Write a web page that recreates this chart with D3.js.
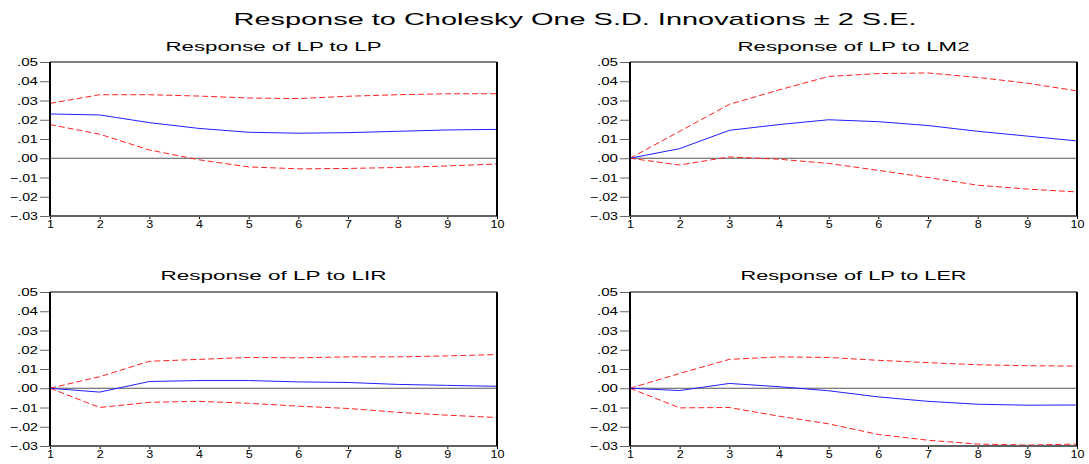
<!DOCTYPE html>
<html>
<head>
<meta charset="utf-8">
<script src="https://cdn.jsdelivr.net/npm/d3@7"></script>
<style>
  body { margin: 0; background: #fff; }
  text { font-family: "Liberation Sans", Arial, sans-serif; fill: #000; }
</style>
</head>
<body>
<div id="chart"></div>
<script>
var periods = [1, 2, 3, 4, 5, 6, 7, 8, 9, 10];
var yTicks = [-0.03, -0.02, -0.01, 0, 0.01, 0.02, 0.03, 0.04, 0.05];

var panelTitles = ["Response of LP to LP", "Response of LP to LM2",
                   "Response of LP to LIR", "Response of LP to LER"];

// LP to LP
var lpResp  = [0.023, 0.0225, 0.0185, 0.0155, 0.0135, 0.013, 0.0133, 0.014, 0.0147, 0.015];
var lpUpper = [0.0285, 0.033, 0.033, 0.0323, 0.0313, 0.031, 0.0322, 0.033, 0.0335, 0.0335];
var lpLower = [0.0175, 0.0125, 0.0043, -0.0008, -0.0045, -0.0055, -0.0053, -0.0048, -0.004, -0.003];

// LP to LM2
var lm2Resp  = [0, 0.005, 0.0145, 0.0175, 0.020, 0.019, 0.017, 0.014, 0.0115, 0.009];
var lm2Upper = [0, 0.014, 0.028, 0.0355, 0.0425, 0.044, 0.0443, 0.042, 0.039, 0.035];
var lm2Lower = [0, -0.0035, 0.0007, -0.0005, -0.0027, -0.0063, -0.010, -0.014, -0.016, -0.0175];

// LP to LIR
var lirResp  = [0, -0.002, 0.0035, 0.004, 0.004, 0.0033, 0.003, 0.002, 0.0015, 0.001];
var lirUpper = [0, 0.006, 0.014, 0.015, 0.016, 0.0158, 0.0163, 0.0163, 0.0168, 0.0175];
var lirLower = [0, -0.010, -0.0073, -0.0068, -0.0078, -0.0093, -0.0105, -0.0125, -0.014, -0.0152];

// LP to LER
var lerResp  = [0, -0.0012, 0.0025, 0.0008, -0.0013, -0.0045, -0.0068, -0.0083, -0.0088, -0.0087];
var lerUpper = [0, 0.0077, 0.015, 0.0163, 0.016, 0.0145, 0.0133, 0.0122, 0.0117, 0.0115];
var lerLower = [0, -0.0102, -0.010, -0.0145, -0.0185, -0.024, -0.027, -0.029, -0.0295, -0.029];

var series = [
    [lpResp, lpUpper, lpLower],
    [lm2Resp, lm2Upper, lm2Lower],
    [lirResp, lirUpper, lirLower],
    [lerResp, lerUpper, lerLower]
];

// stretched look of the EViews font
function stretch(sel, perChar) {
    sel.attr("lengthAdjust", "spacingAndGlyphs")
        .attr("textLength", function() {
            var t = this.textContent;
            return t.length * perChar + (t.charAt(0) == "-" ? 3 : 0);
        });
}

function init() {
    var w = 1089, h = 464;
    var pw = 447, ph = 154;
    var origins = [[50, 62], [630, 62], [50, 292], [630, 292]];

    var svg = d3.select("#chart").append("svg")
        .attr("width", w)
        .attr("height", h);

    svg.append("text")
        .attr("x", 575).attr("y", 25)
        .attr("text-anchor", "middle")
        .attr("font-size", 17)
        .attr("textLength", 683)
        .attr("lengthAdjust", "spacingAndGlyphs")
        .text("Response to Cholesky One S.D. Innovations \u00b1 2 S.E.");

    var tickFmt = function(d) {
        return d3.format(".2f")(d).replace("0.", ".");
    };

    panelTitles.forEach(function(title, i) {
        var ox = origins[i][0], oy = origins[i][1];
        var g = svg.append("g").attr("transform", "translate(" + ox + "," + oy + ")");

        var xScale = d3.scaleLinear().domain([1, 10]).range([0, pw]);
        var yScale = d3.scaleLinear().domain([-0.03, 0.05]).range([ph, 0]);

        g.append("text")
            .attr("x", pw / 2).attr("y", i < 2 ? -11 : -12)
            .attr("text-anchor", "middle")
            .attr("font-size", 13)
            .attr("textLength", i == 1 ? 232 : (i == 0 ? 216 : 226))
            .attr("lengthAdjust", "spacingAndGlyphs")
            .text(title);

        // y axis
        var yAxis = d3.axisLeft(yScale).tickValues(yTicks).tickFormat(tickFmt)
            .tickSize(10).tickPadding(2);
        var ya = g.append("g").call(yAxis);
        ya.select(".domain").remove();
        ya.selectAll(".tick line").attr("stroke", "#666");
        ya.selectAll(".tick text").attr("font-size", 11)
            .attr("font-family", "'Liberation Sans', Arial, sans-serif")
            .call(stretch, 7);

        // x axis
        var xAxis = d3.axisBottom(xScale).tickValues(periods).tickFormat(d3.format("d"))
            .tickSize(3).tickPadding(0);
        var xa = g.append("g").attr("transform", "translate(0," + ph + ")").call(xAxis);
        xa.select(".domain").remove();
        xa.selectAll(".tick line").attr("stroke", "#000");
        xa.selectAll(".tick text").attr("font-size", 11).attr("dy", "0.8em")
            .attr("font-family", "'Liberation Sans', Arial, sans-serif")
            .call(stretch, 7);

        // zero line
        g.append("line")
            .attr("x1", 0).attr("x2", pw)
            .attr("y1", yScale(0)).attr("y2", yScale(0))
            .attr("stroke", "#555").attr("stroke-width", 1);

        var line = d3.line()
            .x(function(d, k) { return xScale(periods[k]); })
            .y(function(d) { return yScale(d); });

        var s = series[i];
        g.append("path").datum(s[1]).attr("d", line)
            .attr("fill", "none").attr("stroke", "#ff2020").attr("stroke-width", 1)
            .attr("stroke-dasharray", "6,3");
        g.append("path").datum(s[2]).attr("d", line)
            .attr("fill", "none").attr("stroke", "#ff2020").attr("stroke-width", 1)
            .attr("stroke-dasharray", "6,3");
        g.append("path").datum(s[0]).attr("d", line)
            .attr("fill", "none").attr("stroke", "#2020ff").attr("stroke-width", 1);

        // frame
        g.append("line").attr("x1", 0).attr("x2", pw).attr("y1", 0).attr("y2", 0)
            .attr("stroke", "#808080").attr("stroke-width", 2);
        g.append("line").attr("x1", 0).attr("x2", pw).attr("y1", ph).attr("y2", ph)
            .attr("stroke", "#606060").attr("stroke-width", 2);
        g.append("line").attr("x1", 0).attr("x2", 0).attr("y1", 0).attr("y2", ph)
            .attr("stroke", "#000").attr("stroke-width", 2);
        g.append("line").attr("x1", pw).attr("x2", pw).attr("y1", 0).attr("y2", ph)
            .attr("stroke", "#000").attr("stroke-width", 2);
    });
}

window.onload = init;
</script>
</body>
</html>
